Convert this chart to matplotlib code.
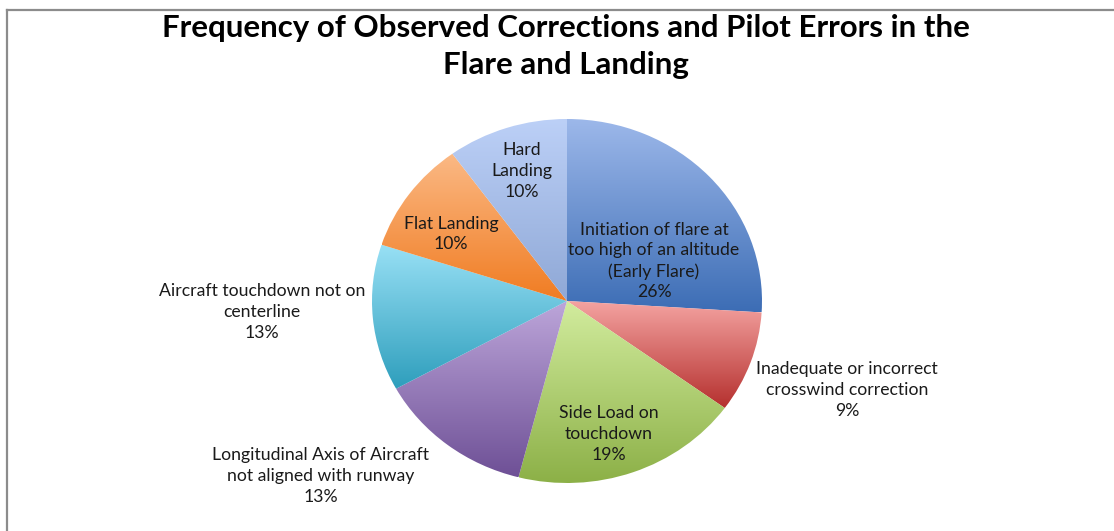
import matplotlib.pyplot as plt
import numpy as np
from matplotlib.colors import LinearSegmentedColormap
from matplotlib.lines import Line2D

# slices, clockwise from 12 o'clock
categories = [
    "Initiation of flare at\ntoo high of an altitude\n(Early Flare)",
    "Inadequate or incorrect\ncrosswind correction",
    "Side Load on\ntouchdown",
    "Longitudinal Axis of Aircraft\nnot aligned with runway",
    "Aircraft touchdown not on\ncenterline",
    "Flat Landing",
    "Hard\nLanding",
]
values = [26, 9, 19, 13, 13, 10, 10]

# (light top, dark bottom) gradient per slice
SLICE_COLORS = [
    ("#9DB8EA", "#3C6DB5"),
    ("#F4A3A1", "#B5302E"),
    ("#D2EC9E", "#8CB047"),
    ("#BDA6DA", "#6E5096"),
    ("#98E0F5", "#2E9EBC"),
    ("#FBB985", "#F07C22"),
    ("#BCD0F7", "#8FA8D6"),
]

# label centres in pixels (x, y from top)
LABEL_POS = [(654, 261), (847, 390), (609, 434), (321, 476),
             (262, 312), (451, 234), (522, 171)]

W, H = 1114, 531
fig = plt.figure(figsize=(W / 100, H / 100), dpi=100)


def fx(px):
    return px / W


def fy(py):
    return 1 - py / H


ax = fig.add_axes([fx(372), fy(483), 390 / W, 364 / H])
wedges, _ = ax.pie(values, startangle=90, counterclock=False, radius=1)
ax.set_aspect("auto")
ax.axis("off")

grad = np.linspace(0, 1, 256).reshape(-1, 1)
for w, (light, dark) in zip(wedges, SLICE_COLORS):
    w.set_facecolor("none")
    w.set_edgecolor("none")
    t = np.radians(np.linspace(w.theta1, w.theta2, 200))
    xs = np.concatenate([[0], np.cos(t)])
    ys = np.concatenate([[0], np.sin(t)])
    cmap = LinearSegmentedColormap.from_list("g", [dark, light])
    im = ax.imshow(grad, extent=[xs.min(), xs.max(), ys.min(), ys.max()],
                   origin="lower", cmap=cmap, aspect="auto", zorder=1)
    im.set_clip_path(w)
ax.set_xlim(-1, 1)
ax.set_ylim(-1, 1)

for name, v, (px, py) in zip(categories, values, LABEL_POS):
    fig.text(fx(px), fy(py), f"{name}\n{v}%", ha="center", va="center",
             fontsize=12.7, family="Lato", color="#1a1a1a", linespacing=1.36)

fig.text(fx(566), fy(46.5), "Frequency of Observed Corrections and Pilot Errors in the\nFlare and Landing",
         ha="center", va="center", fontsize=22.5, fontweight="bold", family="Lato",
         linespacing=1.38)

# chart frame (top and left edges visible)
fig.add_artist(Line2D([fx(7), 1], [fy(9.5), fy(9.5)], color="#8C8C8C", lw=1.6))
fig.add_artist(Line2D([fx(7), fx(7)], [fy(9.5), 0], color="#8C8C8C", lw=1.6))

fig.savefig("out.png", dpi=100)
